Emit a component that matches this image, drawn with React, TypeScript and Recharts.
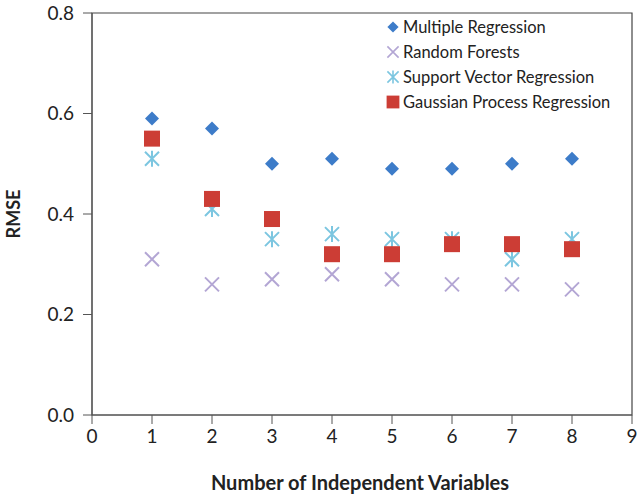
import React from "react";
import { ScatterChart, Scatter, XAxis, YAxis, ReferenceArea, Label } from "recharts";

const xValues = [1, 2, 3, 4, 5, 6, 7, 8];
const multipleRegression = [0.59, 0.57, 0.5, 0.51, 0.49, 0.49, 0.5, 0.51];
const randomForests = [0.31, 0.26, 0.27, 0.28, 0.27, 0.26, 0.26, 0.25];
const supportVector = [0.51, 0.41, 0.35, 0.36, 0.35, 0.35, 0.31, 0.35];
const gaussianProcess = [0.55, 0.43, 0.39, 0.32, 0.32, 0.34, 0.34, 0.33];
const xTicks = [0, 1, 2, 3, 4, 5, 6, 7, 8, 9];
const yTicks = [0, 0.2, 0.4, 0.6, 0.8];
const legendNames = ["Multiple Regression", "Random Forests", "Support Vector Regression", "Gaussian Process Regression"];

const FONT = "Lato, 'Open Sans', sans-serif";
const BLUE = "#3d7cc9";
const LAVENDER = "#b3a6d4";
const CYAN = "#7cc6e0";
const RED = "#cc3d35";

const toPts = (ys: number[]) => xValues.map((x, i) => ({ x, y: ys[i] }));

const Diamond = ({ cx, cy }: any) => (
  <path d={`M${cx},${cy - 7} L${cx + 7},${cy} L${cx},${cy + 7} L${cx - 7},${cy} Z`} fill={BLUE} />
);
const Cross = ({ cx, cy }: any) => (
  <path d={`M${cx - 7},${cy - 7} L${cx + 7},${cy + 7} M${cx - 7},${cy + 7} L${cx + 7},${cy - 7}`} stroke={LAVENDER} strokeWidth={2} fill="none" />
);
const Star = ({ cx, cy }: any) => (
  <path
    d={`M${cx - 7},${cy - 7} L${cx + 7},${cy + 7} M${cx - 7},${cy + 7} L${cx + 7},${cy - 7} M${cx},${cy - 8} L${cx},${cy + 8}`}
    stroke={CYAN}
    strokeWidth={2}
    fill="none"
  />
);
const Square = ({ cx, cy }: any) => <rect x={cx - 8} y={cy - 8} width={16} height={16} fill={RED} />;

const legendShapes = [Diamond, Cross, Star, Square];

export default function App() {
  return (
    <div style={{ position: "absolute", left: 0, top: 0, width: 638, height: 495, background: "#fff" }}>
      <ScatterChart width={638} height={495} margin={{ top: 13, right: 6, bottom: 0, left: 0 }}>
        <XAxis
          type="number"
          dataKey="x"
          domain={[0, 9]}
          ticks={xTicks}
          allowDataOverflow
          stroke="#555"
          tickSize={9}
          tick={{ fill: "#222", fontSize: 19, fontFamily: FONT }}
          tickMargin={6}
          height={80}
          interval={0}
        >
          <Label
            value="Number of Independent Variables"
            position="insideBottom"
            offset={5}
            dx={-2}
            style={{ fontFamily: FONT, fontWeight: 700, fontSize: 20, fill: "#222" }}
          />
        </XAxis>
        <YAxis
          type="number"
          dataKey="y"
          domain={[0, 0.8]}
          ticks={yTicks}
          tickFormatter={(v: number) => v.toFixed(1)}
          stroke="#555"
          tickSize={9}
          tickMargin={9}
          width={92}
          tick={{ fill: "#222", fontSize: 19, fontFamily: FONT }}
        >
          <Label
            value="RMSE"
            angle={-90}
            position="insideLeft"
            offset={14}
            style={{ fontFamily: FONT, fontWeight: 700, fontSize: 18, fill: "#222", textAnchor: "middle" }}
          />
        </YAxis>
        <ReferenceArea x1={0} x2={9} y1={0} y2={0.8} fill="none" stroke="#444" strokeWidth={1.2} />
        <Scatter name={legendNames[0]} data={toPts(multipleRegression)} shape={Diamond} isAnimationActive={false} />
        <Scatter name={legendNames[1]} data={toPts(randomForests)} shape={Cross} isAnimationActive={false} />
        <Scatter name={legendNames[2]} data={toPts(supportVector)} shape={Star} isAnimationActive={false} />
        <Scatter name={legendNames[3]} data={toPts(gaussianProcess)} shape={Square} isAnimationActive={false} />
      </ScatterChart>
      <svg style={{ position: "absolute", left: 0, top: 0 }} width={638} height={495} pointerEvents="none">
        {legendNames.map((name, i) => {
          const Shape = legendShapes[i];
          const cy = 27 + i * 25;
          return (
            <g key={name}>
              <g transform={`translate(${393},${cy}) scale(0.8) translate(${-393},${-cy})`}>
                <Shape cx={393} cy={cy} />
              </g>
              <text x={403} y={cy} dominantBaseline="central" fontFamily={FONT} fontSize={16.5} fill="#222">
                {name}
              </text>
            </g>
          );
        })}
      </svg>
    </div>
  );
}
